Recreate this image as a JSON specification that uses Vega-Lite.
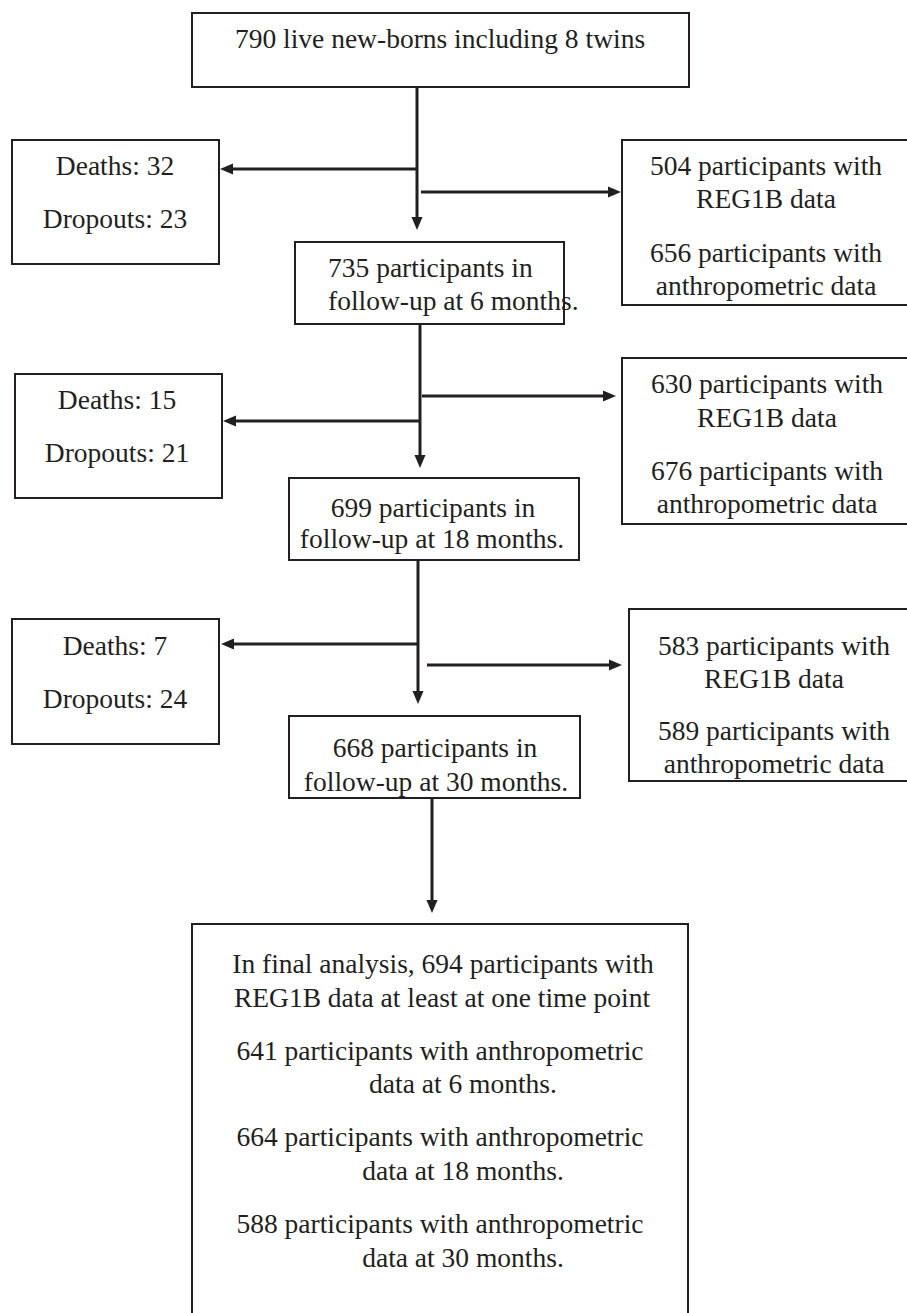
{
  "$schema": "https://vega.github.io/schema/vega-lite/v6.json",
  "width": 907,
  "height": 1313,
  "autosize": "none",
  "padding": 0,
  "background": "white",
  "config": {"view": {"stroke": null}},
  "datasets": {
    "boxes": [
      {"id": "top", "x": 192, "x2": 689, "y": 13, "y2": 87},
      {"id": "d1", "x": 12, "x2": 219, "y": 140, "y2": 264},
      {"id": "r1", "x": 622, "x2": 912, "y": 140, "y2": 305},
      {"id": "b735", "x": 295, "x2": 564, "y": 242, "y2": 324},
      {"id": "d2", "x": 15, "x2": 222, "y": 374, "y2": 498},
      {"id": "r2", "x": 622, "x2": 912, "y": 358, "y2": 524},
      {"id": "b699", "x": 289, "x2": 579, "y": 478, "y2": 560},
      {"id": "d3", "x": 12, "x2": 219, "y": 619, "y2": 744},
      {"id": "r3", "x": 629, "x2": 912, "y": 609, "y2": 781},
      {"id": "b668", "x": 289, "x2": 580, "y": 716, "y2": 798},
      {"id": "final", "x": 192, "x2": 688, "y": 924, "y2": 1340}
    ],
    "lines": [
      {"x": 417, "x2": 417, "y": 87, "y2": 221},
      {"x": 417, "x2": 229, "y": 169, "y2": 169},
      {"x": 421, "x2": 612, "y": 192, "y2": 192},
      {"x": 420, "x2": 420, "y": 324, "y2": 459},
      {"x": 422, "x2": 607, "y": 396, "y2": 396},
      {"x": 420, "x2": 232, "y": 421, "y2": 421},
      {"x": 418, "x2": 418, "y": 560, "y2": 695},
      {"x": 418, "x2": 230, "y": 644, "y2": 644},
      {"x": 427, "x2": 613, "y": 665, "y2": 665},
      {"x": 432, "x2": 432, "y": 798, "y2": 904}
    ],
    "heads": [
      {"x": 417, "y": 230, "dir": "down"},
      {"x": 220, "y": 169, "dir": "left"},
      {"x": 621, "y": 192, "dir": "right"},
      {"x": 420, "y": 468, "dir": "down"},
      {"x": 616, "y": 396, "dir": "right"},
      {"x": 223, "y": 421, "dir": "left"},
      {"x": 418, "y": 704, "dir": "down"},
      {"x": 221, "y": 644, "dir": "left"},
      {"x": 622, "y": 665, "dir": "right"},
      {"x": 432, "y": 913, "dir": "down"}
    ],
    "labels": [
      {"t": "790 live new-borns including 8 twins", "x": 440, "y": 48, "a": "c"},
      {"t": "Deaths: 32", "x": 115, "y": 175, "a": "c"},
      {"t": "Dropouts: 23", "x": 115, "y": 228, "a": "c"},
      {"t": "504 participants with", "x": 766, "y": 175, "a": "c"},
      {"t": "REG1B data", "x": 766, "y": 208, "a": "c"},
      {"t": "656 participants with", "x": 766, "y": 262, "a": "c"},
      {"t": "anthropometric data", "x": 766, "y": 295, "a": "c"},
      {"t": "735 participants in", "x": 328, "y": 277, "a": "l"},
      {"t": "follow-up at 6 months.", "x": 328, "y": 310, "a": "l"},
      {"t": "Deaths: 15", "x": 117, "y": 409, "a": "c"},
      {"t": "Dropouts: 21", "x": 117, "y": 462, "a": "c"},
      {"t": "630 participants with", "x": 767, "y": 393, "a": "c"},
      {"t": "REG1B data", "x": 767, "y": 427, "a": "c"},
      {"t": "676 participants with", "x": 767, "y": 480, "a": "c"},
      {"t": "anthropometric data", "x": 767, "y": 513, "a": "c"},
      {"t": "699 participants in", "x": 433, "y": 517, "a": "c"},
      {"t": "follow-up at 18 months.", "x": 432, "y": 548, "a": "c"},
      {"t": "Deaths: 7", "x": 115, "y": 655, "a": "c"},
      {"t": "Dropouts: 24", "x": 115, "y": 708, "a": "c"},
      {"t": "583 participants with", "x": 774, "y": 655, "a": "c"},
      {"t": "REG1B data", "x": 774, "y": 688, "a": "c"},
      {"t": "589 participants with", "x": 774, "y": 740, "a": "c"},
      {"t": "anthropometric data", "x": 774, "y": 773, "a": "c"},
      {"t": "668 participants in", "x": 435, "y": 757, "a": "c"},
      {"t": "follow-up at 30 months.", "x": 436, "y": 791, "a": "c"},
      {"t": "In final analysis, 694 participants with", "x": 443, "y": 973, "a": "c"},
      {"t": "REG1B data at least at one time point", "x": 442, "y": 1007, "a": "c"},
      {"t": "641 participants with anthropometric", "x": 440, "y": 1060, "a": "c"},
      {"t": "data at 6 months.", "x": 463, "y": 1093, "a": "c"},
      {"t": "664 participants with anthropometric", "x": 440, "y": 1146, "a": "c"},
      {"t": "data at 18 months.", "x": 463, "y": 1180, "a": "c"},
      {"t": "588 participants with anthropometric", "x": 440, "y": 1233, "a": "c"},
      {"t": "data at 30 months.", "x": 463, "y": 1267, "a": "c"}
    ]
  },
  "layer": [
    {
      "data": {"name": "boxes"},
      "mark": {"type": "rect", "fill": "white", "stroke": "#231f20", "strokeWidth": 2},
      "encoding": {
        "x": {"field": "x", "type": "quantitative", "scale": {"domain": [0, 907], "nice": false, "zero": false}, "axis": null},
        "x2": {"field": "x2"},
        "y": {"field": "y", "type": "quantitative", "scale": {"domain": [0, 1313], "nice": false, "zero": false, "reverse": true}, "axis": null},
        "y2": {"field": "y2"}
      }
    },
    {
      "data": {"name": "lines"},
      "mark": {"type": "rule", "stroke": "#231f20", "strokeWidth": 3},
      "encoding": {
        "x": {"field": "x", "type": "quantitative"},
        "x2": {"field": "x2"},
        "y": {"field": "y", "type": "quantitative"},
        "y2": {"field": "y2"}
      }
    },
    {
      "data": {"name": "heads"},
      "mark": {"type": "point", "filled": true, "fill": "#231f20", "stroke": null, "opacity": 1, "size": 169},
      "encoding": {
        "x": {"field": "x", "type": "quantitative"},
        "y": {"field": "y", "type": "quantitative"},
        "shape": {
          "field": "dir",
          "type": "nominal",
          "scale": {
            "domain": ["down", "left", "right"],
            "range": ["M0,0L-0.85,-2L0.85,-2Z", "M0,0L2,-0.85L2,0.85Z", "M0,0L-2,-0.85L-2,0.85Z"]
          },
          "legend": null
        }
      }
    },
    {
      "data": {"name": "labels"},
      "transform": [{"filter": "datum.a === 'c'"}],
      "mark": {"type": "text", "align": "center", "baseline": "alphabetic", "font": "Liberation Serif", "fontSize": 27.5, "color": "#231f20"},
      "encoding": {
        "x": {"field": "x", "type": "quantitative"},
        "y": {"field": "y", "type": "quantitative"},
        "text": {"field": "t"}
      }
    },
    {
      "data": {"name": "labels"},
      "transform": [{"filter": "datum.a === 'l'"}],
      "mark": {"type": "text", "align": "left", "baseline": "alphabetic", "font": "Liberation Serif", "fontSize": 27.5, "color": "#231f20"},
      "encoding": {
        "x": {"field": "x", "type": "quantitative"},
        "y": {"field": "y", "type": "quantitative"},
        "text": {"field": "t"}
      }
    }
  ]
}
